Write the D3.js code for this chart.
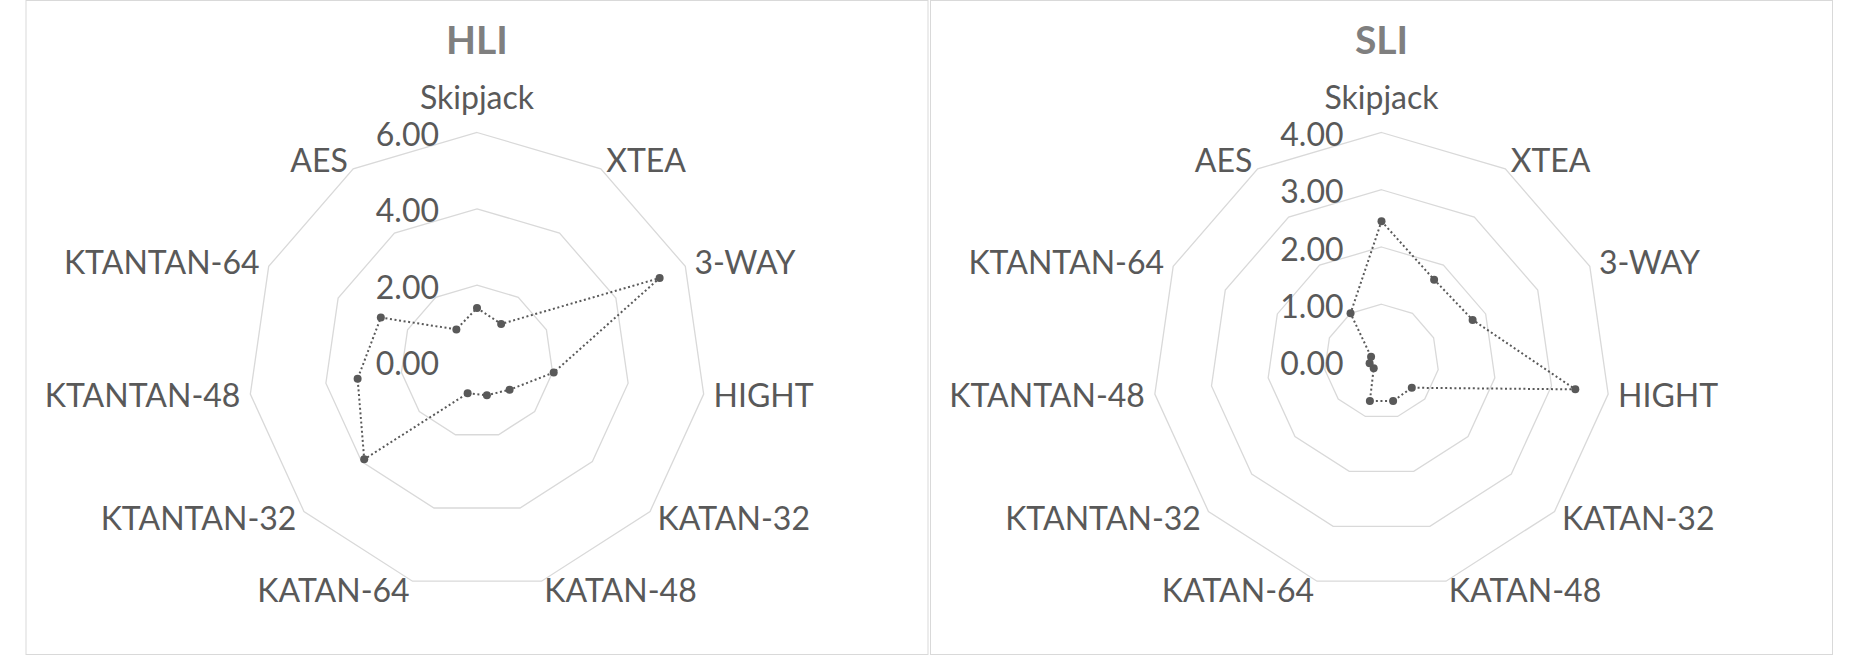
<!DOCTYPE html>
<html>
<head>
<meta charset="utf-8">
<script src="https://cdn.jsdelivr.net/npm/d3@7"></script>
<style>
  html, body { margin: 0; padding: 0; background: #fff; }
  svg { display: block; }
  text { font-family: Lato, "Noto Sans", sans-serif; }
</style>
</head>
<body>
<svg id="chart"></svg>
<script>
// values
var categories = ['Skipjack', 'XTEA', '3-WAY', 'HIGHT', 'KATAN-32', 'KATAN-48',
    'KATAN-64', 'KTANTAN-32', 'KTANTAN-48', 'KTANTAN-64', 'AES'];
var hliValues = [1.40, 1.17, 5.26, 2.03, 1.13, 0.92, 0.87, 3.91, 3.16, 2.77, 1.00];
var sliValues = [2.45, 1.70, 1.75, 3.42, 0.70, 0.72, 0.72, 0.18, 0.21, 0.20, 1.00];
var hliTicks = [0, 2, 4, 6];
var sliTicks = [0, 1, 2, 3, 4];

var width = 1860, height = 660;
var panelW = 902, panelH = 654;
var radius = 229;
var step = 2 * Math.PI / categories.length;

var svg = d3.select('#chart')
    .attr('width', width)
    .attr('height', height);

var drawRadar = function(x0, title, values, ticks) {
    var panel = svg.append('g')
        .attr('transform', 'translate(' + x0 + ',0.5)');

    panel.append('rect')
        .attr('width', panelW)
        .attr('height', panelH)
        .style('fill', '#fff')
        .style('stroke', '#d9d9d9')
        .style('stroke-width', 1);

    panel.append('text')
        .text(title)
        .attr('x', panelW / 2)
        .attr('y', 53)
        .attr('text-anchor', 'middle')
        .attr('font-size', '39px')
        .attr('font-weight', 'bold')
        .style('fill', '#7f7f7f');

    var r = d3.scaleLinear()
        .domain([0, d3.max(ticks)])
        .range([0, radius]);

    var g = panel.append('g')
        .attr('transform', 'translate(' + panelW / 2 + ',361)');

    // grid rings
    g.selectAll('.ring')
        .data(ticks.filter(function(t) { return t > 0; }))
        .enter()
        .append('path')
        .attr('class', 'ring')
        .attr('d', function(t) {
            return d3.lineRadial()
                .angle(function(d, i) { return i * step; })
                .radius(r(t))
                .curve(d3.curveLinearClosed)(categories);
        })
        .style('fill', 'none')
        .style('stroke', '#d9d9d9')
        .style('stroke-width', 1.3);

    // tick labels
    g.selectAll('.tick')
        .data(ticks)
        .enter()
        .append('text')
        .attr('class', 'tick')
        .text(function(t) { return d3.format('.2f')(t); })
        .attr('x', -38)
        .attr('y', function(t) { return -r(t) + 13.5; })
        .attr('text-anchor', 'end')
        .attr('font-size', '32px')
        .style('fill', '#595959');

    // category labels
    g.selectAll('.cat')
        .data(categories)
        .enter()
        .append('text')
        .attr('class', 'cat')
        .text(function(d) { return d; })
        .each(function(d, i) {
            var a = i * step;
            var s = Math.sin(a), c = Math.cos(a);
            var px = (radius + 10) * s, py = -(radius + 10) * c;
            var anchor = s > 0.05 ? 'start' : (s < -0.05 ? 'end' : 'middle');
            var y = anchor === 'middle' && c > 0 ? py - 14 : py + 11.5;
            d3.select(this)
                .attr('x', px)
                .attr('y', y)
                .attr('text-anchor', anchor);
        })
        .attr('font-size', '32px')
        .style('fill', '#595959');

    // series
    g.append('path')
        .datum(values)
        .attr('d', d3.lineRadial()
            .angle(function(d, i) { return i * step; })
            .radius(function(d) { return r(d); })
            .curve(d3.curveLinearClosed))
        .style('fill', 'none')
        .style('stroke', '#595959')
        .style('stroke-width', 2)
        .style('stroke-dasharray', '2,2.6');

    g.selectAll('.dot')
        .data(values)
        .enter()
        .append('circle')
        .attr('class', 'dot')
        .attr('cx', function(d, i) { return r(d) * Math.sin(i * step); })
        .attr('cy', function(d, i) { return -r(d) * Math.cos(i * step); })
        .attr('r', 4)
        .style('fill', '#595959');
};

drawRadar(26, 'HLI', hliValues, hliTicks);
drawRadar(930.5, 'SLI', sliValues, sliTicks);
</script>
</body>
</html>
